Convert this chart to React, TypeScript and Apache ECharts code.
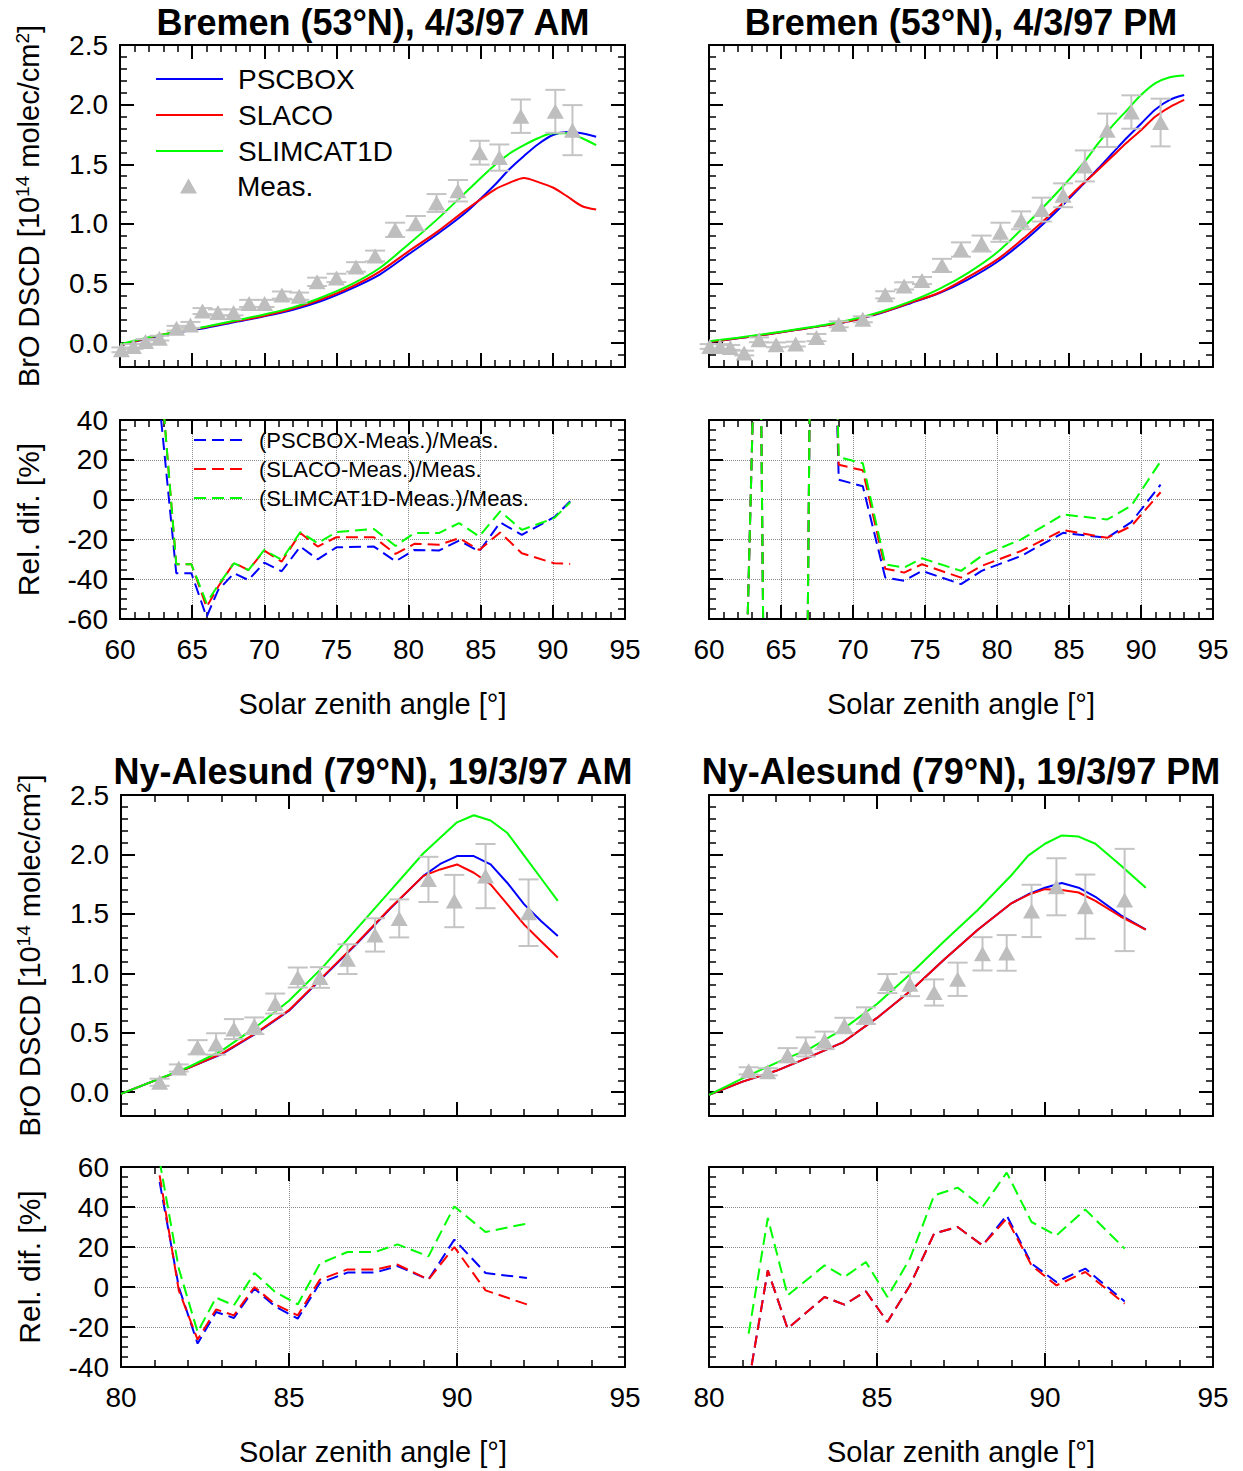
import React, { useEffect, useRef } from 'react';
import * as echarts from 'echarts';

const FONT = 'Liberation Sans, Arial, Helvetica, sans-serif';
const BLUE = '#0000ff';
const RED = '#ff0000';
const GREEN = '#00ff00';
const MEAS_GRAY = '#bebebe';
const ERR_GRAY = '#c4c4c4';

// ---------- texts ----------
const panelTitles = [
  'Bremen (53°N), 4/3/97 AM',
  'Bremen (53°N), 4/3/97 PM',
  'Ny-Alesund (79°N), 19/3/97 AM',
  'Ny-Alesund (79°N), 19/3/97 PM',
];
const modelNames = ['PSCBOX', 'SLACO', 'SLIMCAT1D'];
const relNames = ['(PSCBOX-Meas.)/Meas.', '(SLACO-Meas.)/Meas.', '(SLIMCAT1D-Meas.)/Meas.'];
const measName = 'Meas.';
const xTitle = 'Solar zenith angle [°]';
const relTitle = 'Rel. dif. [%]';

// ---------- axis ticks ----------
const yTicksMain = [0, 0.5, 1.0, 1.5, 2.0, 2.5];
const mainYRange = [-0.2, 2.5];
const bremenXRange = [60, 95];
const nyXRange = [80, 95];
const bremenRelRange = [-60, 40];
const nyRelRange = [-40, 60];

// ---------- Bremen AM ----------
const bremAmModelSza = [60, 62, 64, 66, 68, 70, 72, 74, 76, 78, 80, 82, 84, 86, 87, 88, 89, 90, 91, 92, 93];
const bremAmPscbox = [-0.02, 0.04, 0.09, 0.13, 0.178, 0.225, 0.28, 0.355, 0.455, 0.575, 0.745, 0.915, 1.10, 1.33, 1.46, 1.57, 1.67, 1.745, 1.77, 1.76, 1.73];
const bremAmSlaco = [-0.02, 0.045, 0.095, 0.135, 0.183, 0.23, 0.29, 0.37, 0.47, 0.6, 0.77, 0.935, 1.12, 1.29, 1.345, 1.385, 1.35, 1.305, 1.23, 1.15, 1.12];
const bremAmSlimcat = [-0.01, 0.05, 0.095, 0.14, 0.19, 0.24, 0.3, 0.385, 0.49, 0.63, 0.83, 1.04, 1.27, 1.495, 1.59, 1.66, 1.72, 1.76, 1.76, 1.72, 1.66];
const bremAmMeasSza = [60.1, 60.93, 61.77, 62.73, 63.92, 64.88, 65.72, 66.79, 67.87, 68.95, 70.02, 71.22, 72.42, 73.66, 75.0, 76.36, 77.68, 79.07, 80.5, 81.94, 83.42, 84.93, 86.29, 87.78, 90.17, 91.36];
const bremAmMeas = [-0.056, -0.028, 0.014, 0.042, 0.125, 0.153, 0.269, 0.258, 0.258, 0.333, 0.333, 0.403, 0.394, 0.514, 0.547, 0.639, 0.731, 0.95, 1.006, 1.175, 1.278, 1.597, 1.556, 1.903, 1.944, 1.786];
const bremAmErr = [0.02, 0.02, 0.02, 0.02, 0.02, 0.025, 0.025, 0.025, 0.025, 0.03, 0.03, 0.03, 0.03, 0.035, 0.035, 0.04, 0.045, 0.06, 0.06, 0.075, 0.09, 0.1, 0.11, 0.14, 0.18, 0.21];
const bremAmRelSza = [62.73, 63.9, 64.95, 66.0, 66.8, 67.9, 68.9, 70.0, 71.2, 72.5, 73.7, 75.0, 77.6, 79.1, 80.4, 82.1, 83.5, 84.9, 86.35, 87.85, 90.1, 91.2];
const bremAmRelPscbox = [49, -37, -37, -59, -45.5, -37, -40.4, -31.7, -36, -23.6, -30, -24, -23.6, -31, -25.3, -25.6, -20.6, -26, -11.5, -17.7, -8.8, -0.8];
const bremAmRelSlaco = [71, -32.5, -32.5, -54, -43.8, -31.7, -35.4, -25.6, -31.2, -16.8, -23.6, -18.9, -18.9, -27.3, -22.2, -22.7, -19.4, -25.3, -16.5, -27, -32, -32.3];
const bremAmRelSlimcat = [71, -32.5, -32.5, -52, -43, -32, -35.4, -25.3, -30.3, -16.3, -21.9, -16.3, -14.8, -23.3, -16.8, -16.8, -11.8, -18.5, -5.9, -15.2, -9.3, -1.3];

// ---------- Bremen PM ----------
const bremPmModelSza = [60, 62, 64, 66, 68, 70, 72, 74, 76, 78, 80, 82, 84, 86, 87, 88, 89, 90, 91, 92, 93];
const bremPmPscbox = [0.01, 0.04, 0.073, 0.11, 0.147, 0.19, 0.255, 0.335, 0.42, 0.535, 0.68, 0.87, 1.09, 1.335, 1.46, 1.59, 1.72, 1.84, 1.96, 2.04, 2.08];
const bremPmSlaco = [0.01, 0.04, 0.073, 0.11, 0.147, 0.19, 0.258, 0.34, 0.425, 0.555, 0.70, 0.895, 1.11, 1.34, 1.45, 1.565, 1.68, 1.785, 1.9, 1.98, 2.04];
const bremPmSlimcat = [0.015, 0.045, 0.078, 0.115, 0.153, 0.2, 0.265, 0.35, 0.455, 0.59, 0.76, 0.99, 1.24, 1.51, 1.67, 1.82, 1.95, 2.08, 2.18, 2.23, 2.245];
const bremPmMeasSza = [60.05, 60.76, 61.48, 62.44, 63.47, 64.66, 66.02, 67.46, 69.01, 70.68, 72.24, 73.55, 74.79, 76.18, 77.5, 78.93, 80.24, 81.68, 83.11, 84.59, 86.1, 87.65, 89.33, 91.36];
const bremPmMeas = [-0.028, -0.028, -0.036, -0.083, 0.028, -0.014, -0.008, 0.047, 0.158, 0.2, 0.405, 0.48, 0.525, 0.652, 0.785, 0.835, 0.93, 1.03, 1.12, 1.24, 1.486, 1.785, 1.938, 1.85];
const bremPmErr = [0.02, 0.02, 0.02, 0.02, 0.02, 0.02, 0.02, 0.03, 0.025, 0.025, 0.03, 0.03, 0.03, 0.055, 0.06, 0.067, 0.08, 0.075, 0.1, 0.1, 0.13, 0.14, 0.14, 0.2];
const bremPmRelSza = [62.44, 63.47, 64.66, 66.02, 67.46, 69.01, 70.68, 72.24, 73.55, 74.79, 77.5, 78.93, 81.68, 84.59, 87.65, 89.33, 91.36];
const bremPmRelPscbox = [-130, 166, -770, -760, 440, 10, 6.7, -39.2, -40.8, -35.8, -42.5, -35.8, -28.3, -16.7, -19.2, -11.3, 7.5];
const bremPmRelSlaco = [-130, 166, -770, -760, 440, 17.5, 14.7, -34.7, -36.7, -32.5, -39.2, -33.3, -25.8, -15.3, -19.2, -13.3, 3.7];
const bremPmRelSlimcat = [-130, 166, -770, -760, 440, 21.3, 18.3, -32.5, -34.2, -29.5, -35.8, -28.3, -20, -7.5, -10, -3, 19.2];

// ---------- Ny-Alesund AM ----------
const nyAmModelSza = [80, 81, 82, 83, 84, 85, 86, 87, 88, 89, 89.5, 90, 90.5, 91, 91.5, 92, 92.5, 93];
const nyAmPscbox = [-0.014, 0.098, 0.204, 0.32, 0.49, 0.685, 0.965, 1.245, 1.54, 1.82, 1.92, 1.986, 1.986, 1.916, 1.76, 1.58, 1.44, 1.315];
const nyAmSlaco = [-0.014, 0.098, 0.204, 0.325, 0.495, 0.69, 0.97, 1.25, 1.545, 1.82, 1.874, 1.916, 1.846, 1.748, 1.58, 1.41, 1.27, 1.133];
const nyAmSlimcat = [-0.014, 0.098, 0.21, 0.35, 0.545, 0.77, 1.05, 1.37, 1.69, 2.01, 2.14, 2.27, 2.33, 2.285, 2.18, 1.99, 1.8, 1.61];
const nyAmMeasSza = [81.15, 81.72, 82.28, 82.83, 83.36, 83.97, 84.59, 85.26, 85.92, 86.74, 87.56, 88.28, 89.15, 89.92, 90.85, 92.13];
const nyAmMeas = [0.084, 0.204, 0.378, 0.406, 0.531, 0.559, 0.746, 0.965, 0.965, 1.119, 1.323, 1.462, 1.79, 1.608, 1.818, 1.51];
const nyAmErr = [0.03, 0.03, 0.06, 0.09, 0.084, 0.07, 0.084, 0.084, 0.087, 0.125, 0.14, 0.16, 0.19, 0.22, 0.27, 0.28];
const nyAmRelSza = [81.15, 81.72, 82.28, 82.83, 83.36, 83.97, 84.59, 85.26, 85.92, 86.74, 87.56, 88.23, 89.15, 89.92, 90.85, 92.08];
const nyAmRelPscbox = [52.5, 0, -28.3, -12.5, -15.5, -0.8, -9.7, -15.8, 2, 7.2, 7.2, 10.5, 3.7, 23.7, 7, 4.5];
const nyAmRelSlaco = [55.8, -1.7, -26.3, -11.2, -14.2, 0, -8.7, -14.2, 3.7, 8.8, 8.7, 11.2, 3.7, 20, -1.7, -8.7];
const nyAmRelSlimcat = [63, 9.2, -22.5, -5.3, -9.2, 7, -2.5, -8.7, 11.7, 17.5, 17.5, 21.3, 15.3, 40.3, 27.5, 31.7];

// ---------- Ny-Alesund PM ----------
const nyPmModelSza = [80, 81, 82, 83, 84, 85, 86, 87, 88, 89, 89.5, 90, 90.5, 91, 91.5, 92.25, 93];
const nyPmPscbox = [-0.022, 0.089, 0.18, 0.297, 0.422, 0.625, 0.853, 1.117, 1.367, 1.589, 1.665, 1.72, 1.76, 1.72, 1.644, 1.49, 1.367];
const nyPmSlaco = [-0.022, 0.089, 0.18, 0.297, 0.422, 0.625, 0.853, 1.117, 1.367, 1.589, 1.66, 1.708, 1.70, 1.68, 1.61, 1.478, 1.367];
const nyPmSlimcat = [-0.022, 0.117, 0.247, 0.367, 0.533, 0.742, 0.997, 1.27, 1.533, 1.825, 1.99, 2.09, 2.16, 2.15, 2.09, 1.91, 1.72];
const nyPmMeasSza = [81.18, 81.75, 82.34, 82.88, 83.44, 84.03, 84.67, 85.31, 85.98, 86.7, 87.4, 88.14, 88.86, 89.6, 90.34, 91.2, 92.37];
const nyPmMeas = [0.18, 0.172, 0.311, 0.381, 0.436, 0.561, 0.644, 0.914, 0.908, 0.839, 0.95, 1.164, 1.172, 1.525, 1.728, 1.561, 1.617];
const nyPmErr = [0.03, 0.03, 0.06, 0.08, 0.074, 0.065, 0.07, 0.08, 0.1, 0.11, 0.14, 0.14, 0.15, 0.22, 0.24, 0.27, 0.43];
const nyPmRelSza = [81.18, 81.75, 82.34, 83.44, 84.03, 84.67, 85.31, 85.98, 86.7, 87.4, 88.14, 88.86, 89.6, 90.34, 91.2, 92.37];
const nyPmRelPscbox = [-48, 8.3, -20.8, -5, -8.8, -2.2, -17.5, 0.8, 26.7, 30, 20.8, 35.8, 11.7, 2.5, 9.2, -7.2];
const nyPmRelSlaco = [-48, 8.3, -20.8, -5, -8.8, -2.2, -17.5, 0.8, 26.7, 30, 20.8, 34.2, 10.8, 0.8, 7.5, -8.3];
const nyPmRelSlimcat = [-23.3, 34.5, -4.2, 10.8, 5, 12.5, -5, 14.2, 45.8, 49.7, 40, 57.2, 32.5, 25.8, 38.7, 19.2];

const datasets = [
  { modelSza: bremAmModelSza, models: [bremAmPscbox, bremAmSlaco, bremAmSlimcat], measSza: bremAmMeasSza, meas: bremAmMeas, err: bremAmErr, relSza: bremAmRelSza, rel: [bremAmRelPscbox, bremAmRelSlaco, bremAmRelSlimcat], smooth: 0.3 },
  { modelSza: bremPmModelSza, models: [bremPmPscbox, bremPmSlaco, bremPmSlimcat], measSza: bremPmMeasSza, meas: bremPmMeas, err: bremPmErr, relSza: bremPmRelSza, rel: [bremPmRelPscbox, bremPmRelSlaco, bremPmRelSlimcat], smooth: 0.3 },
  { modelSza: nyAmModelSza, models: [nyAmPscbox, nyAmSlaco, nyAmSlimcat], measSza: nyAmMeasSza, meas: nyAmMeas, err: nyAmErr, relSza: nyAmRelSza, rel: [nyAmRelPscbox, nyAmRelSlaco, nyAmRelSlimcat], smooth: false },
  { modelSza: nyPmModelSza, models: [nyPmPscbox, nyPmSlaco, nyPmSlimcat], measSza: nyPmMeasSza, meas: nyPmMeas, err: nyPmErr, relSza: nyPmRelSza, rel: [nyPmRelPscbox, nyPmRelSlaco, nyPmRelSlimcat], smooth: false },
];

const modelColors = [BLUE, RED, GREEN];

// ---------- layout ----------
const layouts = [
  { left: 120, top: 45, width: 505, height: 322 },
  { left: 120, top: 420, width: 505, height: 199 },
  { left: 709, top: 45, width: 504, height: 322 },
  { left: 709, top: 420, width: 504, height: 199 },
  { left: 121, top: 795, width: 504, height: 321 },
  { left: 121, top: 1167, width: 504, height: 200 },
  { left: 709, top: 795, width: 504, height: 321 },
  { left: 709, top: 1167, width: 504, height: 200 },
];
const panels = [
  { kind: 'main', ds: 0, xr: bremenXRange, yLab: true },
  { kind: 'rel', ds: 0, xr: bremenXRange, yr: bremenRelRange, yLab: true },
  { kind: 'main', ds: 1, xr: bremenXRange, yLab: false },
  { kind: 'rel', ds: 1, xr: bremenXRange, yr: bremenRelRange, yLab: false },
  { kind: 'main', ds: 2, xr: nyXRange, yLab: true },
  { kind: 'rel', ds: 2, xr: nyXRange, yr: nyRelRange, yLab: true },
  { kind: 'main', ds: 3, xr: nyXRange, yLab: false },
  { kind: 'rel', ds: 3, xr: nyXRange, yr: nyRelRange, yLab: false },
];
const titlePos = [
  { x: 373, y: 4 },
  { x: 961, y: 4 },
  { x: 373, y: 753 },
  { x: 961, y: 753 },
];

const errorRender = (params: any, api: any) => {
  const x = api.value(0);
  const y = api.value(1);
  const e = api.value(2);
  const lo = api.coord([x, y - e]);
  const hi = api.coord([x, y + e]);
  const hw = 10;
  const style = { stroke: ERR_GRAY, lineWidth: 2 };
  return {
    type: 'group',
    children: [
      { type: 'line', shape: { x1: lo[0], y1: lo[1], x2: hi[0], y2: hi[1] }, style },
      { type: 'line', shape: { x1: lo[0] - hw, y1: lo[1], x2: lo[0] + hw, y2: lo[1] }, style },
      { type: 'line', shape: { x1: hi[0] - hw, y1: hi[1], x2: hi[0] + hw, y2: hi[1] }, style },
    ],
  };
};

function buildOption() {
  const grids: any[] = [];
  const xAxes: any[] = [];
  const yAxes: any[] = [];
  const series: any[] = [];
  const frameLine = { show: true, onZero: false, lineStyle: { color: '#000', width: 2 } };
  const majorTick = { show: true, inside: true, length: 14, lineStyle: { color: '#000', width: 2 } };
  const dotted = { show: true, lineStyle: { type: 'dotted', color: '#8a8a8a', width: 1 } };
  const labelStyle = { fontSize: 28, color: '#000', fontFamily: FONT };

  panels.forEach((p: any, gi) => {
    const L = layouts[gi];
    grids.push({ left: L.left, top: L.top, width: L.width, height: L.height, containLabel: false, outerBoundsMode: 'none', show: false });
    const d = datasets[p.ds];
    const isRel = p.kind === 'rel';
    const xBase = {
      type: 'value', gridIndex: gi, min: p.xr[0], max: p.xr[1], interval: 5,
      axisLine: frameLine, axisTick: majorTick,
      minorTick: { show: true, splitNumber: 5, length: 7, lineStyle: { color: '#000', width: 1.5 } },
      minorSplitLine: { show: false },
    };
    const xb = xAxes.length;
    xAxes.push({
      ...xBase, position: 'bottom',
      axisLabel: isRel ? { show: true, margin: 16, ...labelStyle } : { show: false },
      splitLine: isRel ? dotted : { show: false },
      name: isRel ? xTitle : '', nameLocation: 'middle', nameGap: 70,
      nameTextStyle: { ...labelStyle, fontSize: 29 },
    });
    xAxes.push({ ...xBase, position: 'top', axisLabel: { show: false }, splitLine: { show: false } });

    const yl = yAxes.length;
    if (!isRel) {
      const yMinorBase = {
        type: 'value', gridIndex: gi, min: mainYRange[0], max: mainYRange[1], interval: 0.1,
        axisLine: frameLine,
        axisTick: { show: true, inside: true, length: 7, lineStyle: { color: '#000', width: 1.5 } },
        axisLabel: { show: false }, splitLine: { show: false },
      };
      yAxes.push({ ...yMinorBase, position: 'left' });
      yAxes.push({ ...yMinorBase, position: 'right' });
      const yMajorBase = {
        type: 'value', gridIndex: gi, min: mainYRange[0], max: mainYRange[1],
        axisLine: { show: false, onZero: false },
        axisTick: { ...majorTick, customValues: yTicksMain },
        splitLine: { show: false },
      };
      yAxes.push({
        ...yMajorBase, position: 'left',
        axisLabel: p.yLab
          ? { show: true, customValues: yTicksMain, formatter: (v: any) => Number(v).toFixed(1), margin: 12, ...labelStyle }
          : { show: false },
        name: p.yLab ? '{a|BrO DSCD [10}{s|14}{a| molec/cm}{s|2}{a|]}' : '',
        nameLocation: 'middle', nameGap: 75, nameRotate: 90,
        nameTextStyle: {
          rich: {
            a: { fontSize: 29, fontFamily: FONT, color: '#000', lineHeight: 32 },
            s: { fontSize: 19, fontFamily: FONT, color: '#000', lineHeight: 19, verticalAlign: 'top' },
          },
        },
      });
      yAxes.push({ ...yMajorBase, position: 'right', axisLabel: { show: false } });

      d.models.forEach((vals, mi) => {
        series.push({
          type: 'line', name: modelNames[mi], xAxisIndex: xb, yAxisIndex: yl,
          data: d.modelSza.map((x, i) => [x, vals[i]]),
          symbol: 'none', smooth: d.smooth, clip: true, z: 2,
          lineStyle: { color: modelColors[mi], width: 2 }, itemStyle: { color: modelColors[mi], opacity: 0 },
        });
      });
      series.push({
        type: 'custom', name: 'Meas. error', xAxisIndex: xb, yAxisIndex: yl,
        renderItem: errorRender, encode: { x: 0, y: 1 }, z: 3,
        data: d.measSza.map((x, i) => [x, d.meas[i], d.err[i]]),
      });
      series.push({
        type: 'scatter', name: measName, xAxisIndex: xb, yAxisIndex: yl,
        symbol: 'triangle', symbolSize: [17, 15], z: 4,
        itemStyle: { color: MEAS_GRAY, opacity: 1 },
        data: d.measSza.map((x, i) => [x, d.meas[i]]),
      });
    } else {
      const yRelBase = {
        type: 'value', gridIndex: gi, min: p.yr[0], max: p.yr[1], interval: 20,
        axisLine: frameLine, axisTick: majorTick,
        minorTick: { show: true, splitNumber: 4, length: 7, lineStyle: { color: '#000', width: 1.5 } },
        minorSplitLine: { show: false },
      };
      yAxes.push({
        ...yRelBase, position: 'left',
        axisLabel: p.yLab ? { show: true, margin: 12, ...labelStyle } : { show: false },
        splitLine: dotted,
        name: p.yLab ? relTitle : '', nameLocation: 'middle', nameGap: 77, nameRotate: 90,
        nameTextStyle: { ...labelStyle, fontSize: 30 },
      });
      yAxes.push({ ...yRelBase, position: 'right', axisLabel: { show: false }, splitLine: { show: false } });
      d.rel.forEach((vals, mi) => {
        series.push({
          type: 'line', name: relNames[mi], xAxisIndex: xb, yAxisIndex: yl,
          data: d.relSza.map((x, i) => [x, vals[i]]),
          symbol: 'none', clip: true, z: 2,
          lineStyle: { color: modelColors[mi], width: 2, type: [12, 6] }, itemStyle: { color: modelColors[mi], opacity: 0 },
        });
      });
    }
  });

  return {
    animation: false,
    backgroundColor: '#fff',
    textStyle: { fontFamily: FONT },
    title: panelTitles.map((t, i) => ({
      text: t, left: titlePos[i].x, top: titlePos[i].y, textAlign: 'center', textVerticalAlign: 'top', padding: 0,
      textStyle: { fontSize: 36, fontWeight: 'bold', color: '#000', fontFamily: FONT },
    })),
    legend: [
      {
        data: modelNames, orient: 'vertical', left: 155, top: 65, padding: 0,
        itemWidth: 67, itemHeight: 16, itemGap: 8, selectedMode: false,
        textStyle: { fontSize: 28, color: '#000', fontFamily: FONT, padding: [0, 0, 0, 10] },
      },
      {
        data: [measName], orient: 'vertical', left: 180, top: 172, padding: 0,
        itemWidth: 17, itemHeight: 15, selectedMode: false,
        textStyle: { fontSize: 28, color: '#000', fontFamily: FONT, padding: [0, 0, 0, 35] },
      },
      {
        data: relNames, orient: 'vertical', left: 193, top: 429, padding: 0,
        itemWidth: 54, itemHeight: 14, itemGap: 7, selectedMode: false,
        textStyle: { fontSize: 22, color: '#000', fontFamily: FONT, padding: [0, 0, 0, 6] },
      },
    ],
    grid: grids,
    xAxis: xAxes,
    yAxis: yAxes,
    series,
  };
}

export default function App() {
  const ref = useRef<HTMLDivElement>(null);
  useEffect(() => {
    if (!ref.current) return;
    const chart = echarts.init(ref.current, undefined, { renderer: 'svg' });
    chart.setOption(buildOption() as any);
    return () => chart.dispose();
  }, []);
  return (
    <div
      ref={ref}
      style={{ position: 'absolute', left: 0, top: 0, width: 1243, height: 1471, background: '#fff' }}
    />
  );
}
